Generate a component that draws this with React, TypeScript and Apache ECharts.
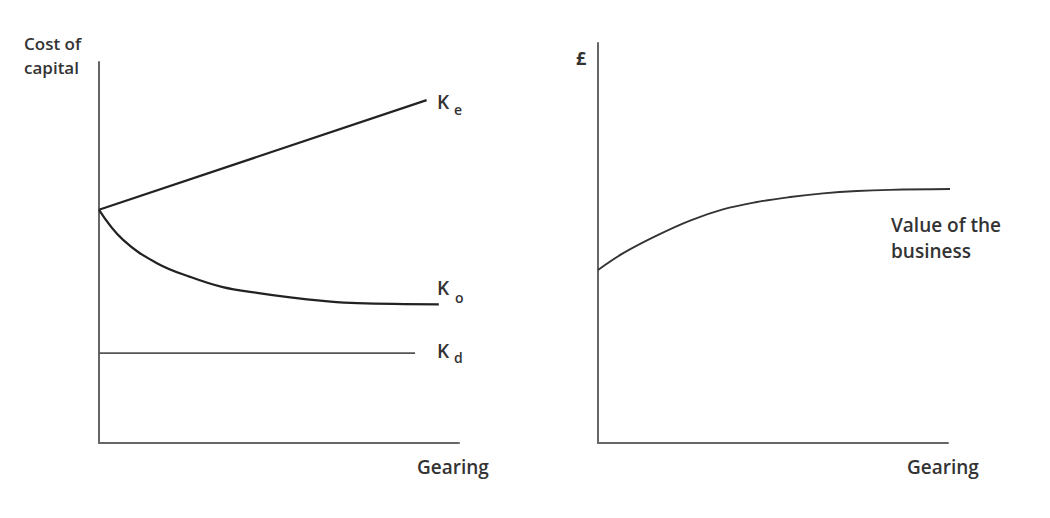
import React, { useEffect, useRef } from "react";
import * as echarts from "echarts";

// Left chart: cost of capital vs gearing
const keGearing = [0, 9.1];
const keValues = [61.2, 90.0];
const koGearing = [0, 0.67, 1.61, 2.53, 3.44, 4.39, 5.31, 6.22, 7.17, 9.44];
const koValues = [61.2, 53.3, 47.2, 43.6, 40.9, 39.4, 38.2, 37.3, 36.7, 36.4];
const kdGearing = [0, 8.78];
const kdValues = [23.6, 23.6];

// Right chart: value of the business vs gearing
const valueGearing = [0, 0.71, 1.69, 2.63, 3.57, 4.54, 5.49, 6.43, 7.4, 8.34, 10.1];
const valueValues = [43.25, 47.4, 51.9, 55.6, 58.4, 60.25, 61.5, 62.4, 63, 63.3, 63.5];

const FONT = "'Open Sans', sans-serif";
const TXT = "#333";

function pairs(xs: number[], ys: number[]) {
  return xs.map((x, i) => [x, ys[i]]);
}

function axisBase(gridIndex: number, max: number) {
  return {
    type: "value" as const,
    gridIndex,
    min: 0,
    max,
    axisLine: { show: true, onZero: false, lineStyle: { color: "#666", width: 2 } },
    axisTick: { show: false },
    axisLabel: { show: false },
    splitLine: { show: false },
  };
}

export default function App() {
  const ref = useRef<HTMLDivElement>(null);
  useEffect(() => {
    if (!ref.current) return;
    const chart = echarts.init(ref.current, undefined, { renderer: "svg" });
    const txt = (text: string, x: number, y: number, size: number, extra: any = {}, weight = 600) => ({
      type: "text",
      x,
      y,
      style: {
        text,
        fill: TXT,
        font: `${weight} ${size}px ${FONT}`,
        lineHeight: size,
        textVerticalAlign: "middle",
        ...extra,
      },
    });
    chart.setOption({
      animation: false,
      backgroundColor: "#fff",
      grid: [
        { left: 99, top: 62, width: 360, height: 381 },
        { left: 598, top: 43, width: 350, height: 400 },
      ],
      xAxis: [axisBase(0, 10), axisBase(1, 10)],
      yAxis: [axisBase(0, 100), axisBase(1, 100)],
      series: [
        {
          name: "Ke",
          type: "line",
          xAxisIndex: 0,
          yAxisIndex: 0,
          data: pairs(keGearing, keValues),
          symbol: "none",
          lineStyle: { color: "#222", width: 2.2 },
        },
        {
          name: "Ko",
          type: "line",
          xAxisIndex: 0,
          yAxisIndex: 0,
          data: pairs(koGearing, koValues),
          symbol: "none",
          smooth: 0.4,
          clip: false,
          lineStyle: { color: "#222", width: 2.2 },
        },
        {
          name: "Kd",
          type: "line",
          xAxisIndex: 0,
          yAxisIndex: 0,
          data: pairs(kdGearing, kdValues),
          symbol: "none",
          lineStyle: { color: "#555", width: 1.8 },
        },
        {
          name: "Value of the business",
          type: "line",
          xAxisIndex: 1,
          yAxisIndex: 1,
          data: pairs(valueGearing, valueValues),
          symbol: "none",
          smooth: 0.4,
          clip: false,
          lineStyle: { color: "#333", width: 1.8 },
        },
      ],
      graphic: [
        txt("Cost of", 24, 43, 17),
        txt("capital", 24, 67, 17),
        txt("Gearing", 417, 467, 19),
        txt("Gearing", 907, 467, 19),
        txt("Value of the", 891, 225, 19),
        txt("business", 891, 251, 19),
        txt("£", 576, 58, 18, {}, 700),
        txt("K", 437, 102, 19),
        txt("e", 454, 109, 14),
        txt("K", 437, 288, 19),
        txt("o", 455, 297, 14),
        txt("K", 437, 351, 19),
        txt("d", 454, 357, 14),
      ],
    });
    return () => chart.dispose();
  }, []);
  return (
    <div
      ref={ref}
      style={{ position: "absolute", left: 0, top: 0, width: 1050, height: 518 }}
    />
  );
}
